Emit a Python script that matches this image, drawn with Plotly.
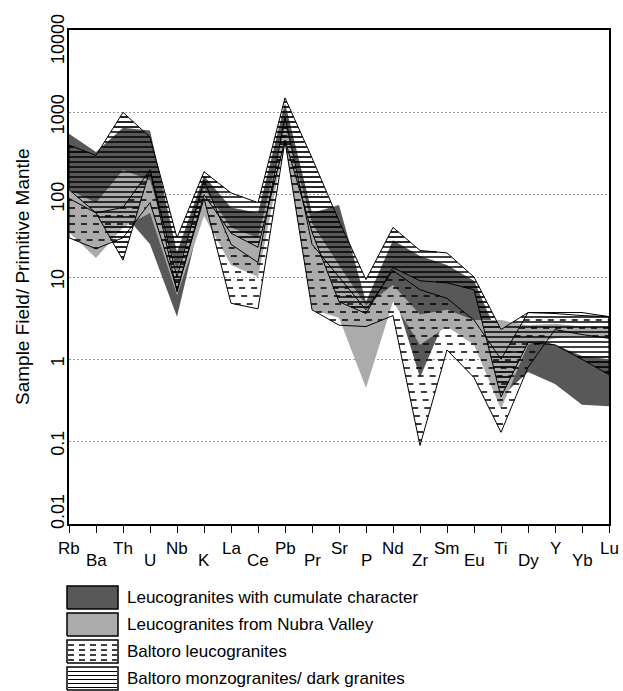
import numpy as np
import plotly.graph_objects as go

# ---------------- data ----------------
elements = ["Rb", "Ba", "Th", "U", "Nb", "K", "La", "Ce", "Pb", "Pr", "Sr",
            "P", "Nd", "Zr", "Sm", "Eu", "Ti", "Dy", "Y", "Yb", "Lu"]
label_low = [False, True, False, True, False, True, False, True, False, True, False,
             True, False, True, False, True, False, True, False, True, False]

# Leucogranites with cumulate character (dark grey field)
cumulate_upper = [550, 330, 650, 600, 20, 170, 70, 60, 1300, 60, 75,
                  5, 28, 18, 14, 9, 1.6, 1.9, 1.5, 1.1, 1.0]
cumulate_lower = [110, 70, 60, 25, 3.3, 80, 30, 22, 400, 10, 7,
                  1.9, 7, 0.6, 3.5, 1.8, 0.35, 0.7, 0.5, 0.28, 0.27]

# Leucogranites from Nubra Valley (light grey field)
nubra_upper = [115, 80, 200, 150, 12, 120, 40, 30, 700, 45, 14,
               4.5, 8, 3.5, 4, 3, 3.0, 2.6, 2.7, 2.5, 2.5]
nubra_lower = [35, 17, 40, 60, 6, 55, 14, 10, 450, 4, 3.2,
               0.45, 5, 1.5, 2.5, 1.5, 0.25, 1.5, 1.8, 1.9, 1.9]

# Baltoro leucogranites (dashed field)
baltoro_leuco_upper = [90, 60, 70, 200, 10, 150, 25, 15, 900, 25, 10,
                       4, 12, 7, 5.5, 3, 1.0, 3.7, 3.6, 3.4, 3.3]
baltoro_leuco_lower = [30, 22, 30, 80, 7, 90, 4.8, 4.1, 450, 4, 2.6,
                       2.5, 3.4, 0.09, 1.3, 0.6, 0.13, 0.8, 2.3, 2.0, 1.8]

# Baltoro monzogranites / dark granites (horizontal hatch field)
baltoro_monzo_upper = [400, 300, 1000, 500, 30, 190, 105, 80, 1500, 280, 48,
                       9.3, 40, 21, 19.6, 10, 2.3, 3.7, 3.7, 3.7, 3.3]
baltoro_monzo_lower = [115, 60, 16, 200, 6.6, 100, 34, 23, 460, 35, 5,
                       3.6, 13, 9, 8.5, 7, 0.35, 1.6, 1.5, 1.0, 0.65]

y_tickvals = [0.01, 0.1, 1, 10, 100, 1000, 10000]
y_ticktext = ["0.01", "0.1", "1", "10", "100", "1000", "10000"]

legend_labels = ["Leucogranites with cumulate character",
                 "Leucogranites from Nubra Valley",
                 "Baltoro leucogranites",
                 "Baltoro monzogranites/ dark granites"]

# ---------------- layout constants ----------------
W, H = 623, 691
PL, PR, PT, PB = 69, 609, 30, 524
FONT = "Liberation Sans, Arial, Helvetica, sans-serif"
DARK = "#585858"
LIGHT = "#ababab"
px_per_dec = (PB - PT) / 6.0

xi = list(range(len(elements)))


def polygon(upper, lower):
    xs = xi + xi[::-1] + [xi[0]]
    ys = list(upper) + list(lower)[::-1] + [upper[0]]
    return xs, ys


def field_rows(upper, lower, step_px, offset_px=0.0):
    """Horizontal row segments clipped to the field between the two envelopes."""
    lu = np.log10(np.array(upper, float))
    ll = np.log10(np.array(lower, float))
    xs = np.linspace(0, len(xi) - 1, 6001)
    up = np.interp(xs, xi, lu)
    lo = np.interp(xs, xi, ll)
    step = step_px / px_per_dec
    levels = np.arange(-2 + offset_px / px_per_dec, 4, step)
    sx, sy = [], []
    for L in levels:
        inside = (lo <= L) & (L <= up)
        if not inside.any():
            continue
        d = np.diff(inside.astype(int))
        starts = list(np.where(d == 1)[0] + 1)
        ends = list(np.where(d == -1)[0])
        if inside[0]:
            starts = [0] + starts
        if inside[-1]:
            ends = ends + [len(xs) - 1]
        for a, b in zip(starts, ends):
            if b - a < 3:
                continue
            sx += [xs[a], xs[b], None]
            sy += [10 ** L, 10 ** L, None]
    return sx, sy


fig = go.Figure()

# dark grey field
x, y = polygon(cumulate_upper, cumulate_lower)
fig.add_trace(go.Scatter(x=x, y=y, mode="lines", fill="toself", fillcolor=DARK,
                         line=dict(width=0, color=DARK), hoverinfo="skip", showlegend=False))
# light grey field
x, y = polygon(nubra_upper, nubra_lower)
fig.add_trace(go.Scatter(x=x, y=y, mode="lines", fill="toself", fillcolor=LIGHT,
                         line=dict(width=0, color=LIGHT), hoverinfo="skip", showlegend=False))
# dashed field
sx, sy = field_rows(baltoro_leuco_upper, baltoro_leuco_lower, 8, 4)
fig.add_trace(go.Scatter(x=sx, y=sy, mode="lines", connectgaps=False,
                         line=dict(width=1.6, color="black", dash="6px,6px"),
                         hoverinfo="skip", showlegend=False))
x, y = polygon(baltoro_leuco_upper, baltoro_leuco_lower)
fig.add_trace(go.Scatter(x=x, y=y, mode="lines", line=dict(width=1, color="black"),
                         hoverinfo="skip", showlegend=False))
# horizontal hatch field
sx, sy = field_rows(baltoro_monzo_upper, baltoro_monzo_lower, 5, 2)
fig.add_trace(go.Scatter(x=sx, y=sy, mode="lines", connectgaps=False,
                         line=dict(width=1.7, color="black"),
                         hoverinfo="skip", showlegend=False))
x, y = polygon(baltoro_monzo_upper, baltoro_monzo_lower)
fig.add_trace(go.Scatter(x=x, y=y, mode="lines", line=dict(width=1, color="black"),
                         hoverinfo="skip", showlegend=False))

# ---------------- legend swatches (second axes) ----------------
box_w = 51
boxes = [(82, 105), (55, 78), (28, 51), (1, 24)]  # px above figure bottom
for k, (b0, b1) in enumerate(boxes):
    bx = [0, box_w, box_w, 0, 0]
    by = [b0, b0, b1, b1, b0]
    kw = dict(x=bx, y=by, mode="lines", xaxis="x2", yaxis="y2", hoverinfo="skip",
              showlegend=False, line=dict(width=1.5, color="black"))
    if k == 0:
        fig.add_trace(go.Scatter(fill="toself", fillcolor=DARK, **kw))
    elif k == 1:
        fig.add_trace(go.Scatter(fill="toself", fillcolor=LIGHT, **kw))
    else:
        rx, ry = [], []
        step = 5 if k == 2 else 4
        for yy in np.arange(b0 + step / 2.0 + 0.5, b1 - 1, step):
            rx += [1, box_w - 1, None]
            ry += [yy, yy, None]
        line = (dict(width=1.4, color="black", dash="6px,5px") if k == 2
                else dict(width=1.2, color="black"))
        fig.add_trace(go.Scatter(x=rx, y=ry, mode="lines", xaxis="x2", yaxis="y2",
                                 line=line, hoverinfo="skip", showlegend=False))
        fig.add_trace(go.Scatter(**kw))

annotations = []
for k, (b0, b1) in enumerate(boxes):
    cy = (b0 + b1) / 2.0
    annotations.append(dict(x=125 / W, y=cy / H, xref="paper", yref="paper",
                            xanchor="left", yanchor="middle", showarrow=False,
                            text=legend_labels[k],
                            font=dict(family=FONT, size=17, color="black")))

# staggered x tick labels
for i, el in enumerate(elements):
    py = 560 if label_low[i] else 548
    annotations.append(dict(x=i, y=(H - py) / H, xref="x", yref="paper",
                            xanchor="center", yanchor="middle", showarrow=False,
                            text=el, font=dict(family=FONT, size=17, color="black")))

# rotated y tick labels (kept inside the frame height at the ends, as in the reference)
for v, t in zip(y_tickvals, y_ticktext):
    py = PB - (np.log10(v) + 2) * px_per_dec + 2
    if v == y_tickvals[-1]:
        py = PT + 9
    if v == y_tickvals[0]:
        py = PB - 12
    annotations.append(dict(x=58 / W, y=(H - py) / H, xref="paper", yref="paper",
                            xanchor="center", yanchor="middle", showarrow=False,
                            textangle=-90, text=t,
                            font=dict(family=FONT, size=18, color="black")))

# y-axis title
annotations.append(dict(x=22 / W, y=(H - (PT + PB) / 2) / H, xref="paper", yref="paper",
                        xanchor="center", yanchor="middle", showarrow=False,
                        textangle=-90, text="Sample Field/ Primitive Mantle",
                        font=dict(family=FONT, size=19, color="black")))

fig.update_layout(
    template="none",
    width=W, height=H,
    margin=dict(l=0, r=0, t=0, b=0, pad=0, autoexpand=False),
    paper_bgcolor="white", plot_bgcolor="white",
    showlegend=False,
    font=dict(family=FONT, color="black"),
    xaxis=dict(domain=[PL / W, PR / W], range=[0, len(xi) - 1], automargin=False,
               tickmode="array", tickvals=xi, showticklabels=False,
               ticks="outside", ticklen=7, tickwidth=1.2, tickcolor="black",
               showline=True, linecolor="black", linewidth=1.5, mirror=True,
               showgrid=False, zeroline=False),
    yaxis=dict(domain=[(H - PB) / H, (H - PT) / H], type="log", range=[-2, 4],
               automargin=False, showticklabels=False,
               tickmode="array", tickvals=y_tickvals, ticks="",
               showline=True, linecolor="black", linewidth=1.5, mirror=True,
               showgrid=True, gridcolor="#9a9a9a", gridwidth=1, griddash="2px,2px",
               zeroline=False),
    xaxis2=dict(domain=[62 / W, 123 / W], range=[-5, 56], anchor="y2",
                visible=False, fixedrange=True, automargin=False),
    yaxis2=dict(domain=[0, 110 / H], range=[0, 110], anchor="x2",
                visible=False, fixedrange=True, automargin=False),
    annotations=annotations,
)

fig.write_html("out.html")
